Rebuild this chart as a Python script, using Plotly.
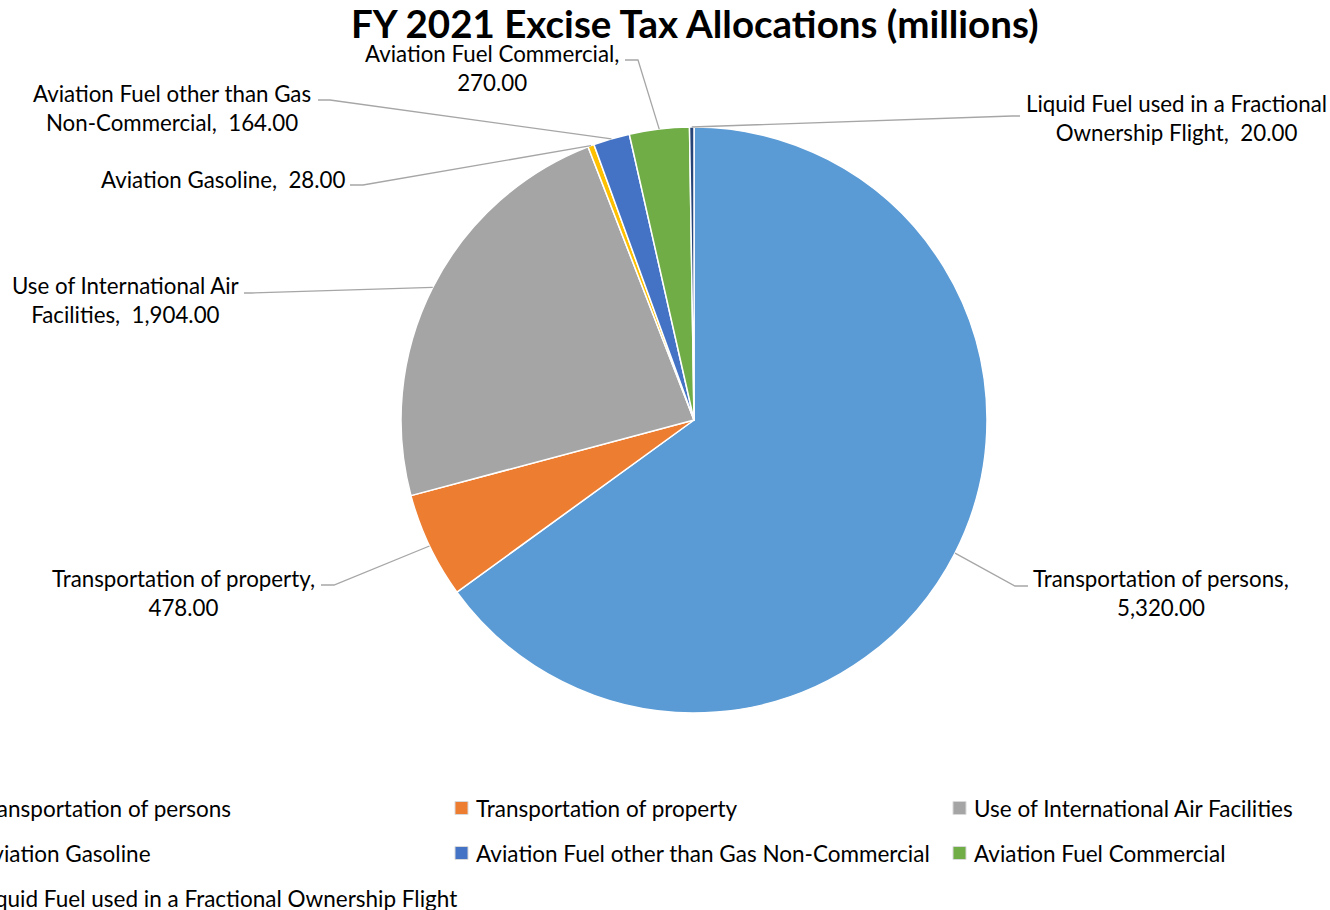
import math
import plotly.graph_objects as go

# ---- data ----
categories = [
    "Transportation of persons",
    "Transportation of property",
    "Use of International Air Facilities",
    "Aviation Gasoline",
    "Aviation Fuel other than Gas Non-Commercial",
    "Aviation Fuel Commercial",
    "Liquid Fuel used in a Fractional Ownership Flight",
]
values = [5320.00, 478.00, 1904.00, 28.00, 164.00, 270.00, 20.00]
label_lines = [
    ["Transportation of persons,", "5,320.00"],
    ["Transportation of property,", "478.00"],
    ["Use of International Air", "Facilities,  1,904.00"],
    ["Aviation Gasoline,  28.00"],
    ["Aviation Fuel other than Gas", "Non-Commercial,  164.00"],
    ["Aviation Fuel Commercial,", "270.00"],
    ["Liquid Fuel used in a Fractional", "Ownership Flight,  20.00"],
]
title_text = "FY 2021 Excise Tax Allocations (millions)"

# ---- styles ----
colors = ["#5B9BD5", "#ED7D31", "#A5A5A5", "#FFC000", "#4472C4", "#70AD47", "#264478"]
W, H = 1330, 910
CX, CY, R = 694, 420, 293
FONT = "Lato"
LABEL_SIZE = 22.3
LEGEND_SIZE = 22.5
LINE_COLOR = "#A6A6A6"

# label layout: (anchor x, center y, xanchor), elbow point, end point
label_layout = [
    (1031, 593, "left", (1015, 586), (1028, 586)),
    (317, 593, "right", (334, 585), (321, 585)),
    (241, 300, "right", (251, 293), (244, 293)),
    (347, 180, "right", (363, 185), (350, 185)),
    (313, 108, "right", (330, 100), (318, 100)),
    (621, 68, "right", (638, 60), (625, 60)),
    (1024, 118, "left", (1012, 116), (1020, 116)),
]

def px(x):
    return x / W

def py(y):
    return 1 - y / H

fig = go.Figure()
fig.add_trace(go.Pie(
    labels=categories,
    values=values,
    sort=False,
    direction="clockwise",
    rotation=0,
    textinfo="none",
    hoverinfo="label+value",
    marker=dict(colors=colors, line=dict(color="#FFFFFF", width=1.5)),
    domain=dict(x=[px(CX - R), px(CX + R)], y=[py(CY + R), py(CY - R)]),
    showlegend=False,
))

total = sum(values)
cum = 0.0
shapes = []
annotations = []
for i, v in enumerate(values):
    mid = (cum + v / 2) / total * 2 * math.pi
    cum += v
    ex = CX + R * math.sin(mid)
    ey = CY - R * math.cos(mid)
    ax, ay, xa, (bx, by), (tx, ty) = label_layout[i]
    path = f"M {px(ex)} {py(ey)} L {px(bx)} {py(by)} L {px(tx)} {py(ty)}"
    shapes.append(dict(type="path", xref="paper", yref="paper", path=path,
                       line=dict(color=LINE_COLOR, width=1.3)))
    annotations.append(dict(
        x=px(ax), y=py(ay), xref="paper", yref="paper",
        xanchor=xa, yanchor="middle", align="center",
        text="<br>".join(label_lines[i]), showarrow=False,
        font=dict(family=FONT, size=LABEL_SIZE, color="#000000"),
    ))

# legend (3 columns, first column partly outside the canvas as in the reference)
col_text_x = [-24, 474, 972]
row_y = [808, 853, 898]
for i, name in enumerate(categories):
    r, c = divmod(i, 3)
    tx = col_text_x[c]
    ty = row_y[r]
    shapes.append(dict(type="rect", xref="paper", yref="paper",
                       x0=px(tx - 19), x1=px(tx - 6), y0=py(ty + 6.5), y1=py(ty - 6.5),
                       fillcolor=colors[i], line=dict(color="#D9D9D9", width=1)))
    annotations.append(dict(
        x=px(tx), y=py(ty), xref="paper", yref="paper",
        xanchor="left", yanchor="middle", text=name, showarrow=False,
        font=dict(family=FONT, size=LEGEND_SIZE, color="#000000"),
    ))

annotations.append(dict(
    x=px(695), y=py(23), xref="paper", yref="paper",
    xanchor="center", yanchor="middle", text=f"<b>{title_text}</b>", showarrow=False,
    font=dict(family=FONT, size=38.5, color="#000000"),
))

fig.update_layout(
    width=W, height=H,
    margin=dict(l=0, r=0, t=0, b=0),
    paper_bgcolor="#FFFFFF", plot_bgcolor="#FFFFFF",
    shapes=shapes, annotations=annotations,
)
fig.write_html(
    "out.html",
    config={"displayModeBar": False},
    post_script="document.body.style.margin='0';document.body.style.overflow='hidden';",
)
